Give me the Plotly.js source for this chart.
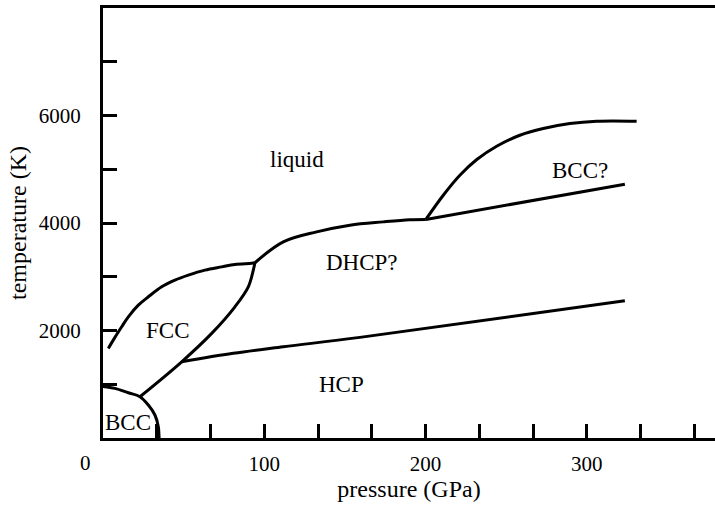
<!DOCTYPE html>
<html>
<head>
<meta charset="utf-8">
<script src="https://cdn.plot.ly/plotly-3.0.1.min.js"></script>
<style>
  html, body { margin: 0; padding: 0; background: #fff; }
  #chart { width: 715px; height: 507px; }
</style>
</head>
<body>
<div id="chart"></div>
<script>
// Phase boundaries of iron: pressure (GPa) vs temperature (K)
const bccLowP = [0, 7.4, 15.7, 22.9, 28.1, 32.2, 34.3, 34.7, 34.8];
const bccLowT = [960, 924, 842, 768, 613, 428, 210, 56, 0];

const fccHcpP = [22.9, 48.8, 67.4, 81.8, 90.1, 93.2, 94.2];
const fccHcpT = [768, 1418, 1946, 2441, 2813, 3123, 3260];

const fccMeltP = [3.3, 7.4, 11.6, 15.7, 21.9, 28.1, 36.4, 44.6, 52.9, 63.2, 73.6, 81.8, 92.2, 94.2];
const fccMeltT = [1667, 1872, 2069, 2255, 2472, 2627, 2813, 2937, 3030, 3123, 3184, 3229, 3250, 3260];

const dhcpMeltP = [94.2, 111.8, 132.5, 153.1, 173.8, 190.3, 200.2];
const dhcpMeltT = [3260, 3649, 3835, 3960, 4021, 4060, 4066];

const bccMeltP = [200.2, 211.0, 221.3, 231.8, 244.1, 258.5, 273.0, 289.5, 306.1, 330.9];
const bccMeltT = [4066, 4517, 4889, 5181, 5428, 5633, 5757, 5850, 5893, 5893];

const dhcpBccP = [200.2, 323.6];
const dhcpBccT = [4066, 4722];

const hcpDhcpP = [48.8, 80.8, 111.8, 159.3, 323.6];
const hcpDhcpT = [1418, 1575, 1697, 1872, 2553];

// Tick marks and labels
const xTickVals = [33.33, 66.67, 100, 133.33, 166.67, 200, 233.33, 266.67, 300, 333.33, 366.67];
const xTickText = ['', '', '100', '', '', '200', '', '', '300', '', ''];
const yTickVals = [1000, 2000, 3000, 4000, 5000, 6000, 7000];
const yTickText = ['', '2000', '', '4000', '', '6000', ''];

// Region labels
const regionNames = ['liquid', 'DHCP?', 'BCC?', 'FCC', 'HCP', 'BCC'];
const regionP = [120.3, 160.6, 295.7, 39.7, 148.0, 15.5];
const regionT = [5187, 3272, 4982, 2008, 1000, 297];

const FONT = 'Liberation Serif, Times New Roman, serif';
const lineStyle = { color: '#000', width: 3 };

function curve(x, y, smooth) {
  return {
    type: 'scatter', mode: 'lines', x: x, y: y,
    line: Object.assign({}, lineStyle, smooth ? { shape: 'spline', smoothing: 1 } : {}),
    hoverinfo: 'skip', showlegend: false
  };
}

const traces = [
  curve(bccLowP, bccLowT, true),
  curve(fccHcpP, fccHcpT, true),
  curve(fccMeltP, fccMeltT, true),
  curve(dhcpMeltP, dhcpMeltT, true),
  curve(bccMeltP, bccMeltT, true),
  curve(dhcpBccP, dhcpBccT, false),
  curve(hcpDhcpP, hcpDhcpT, true)
];

const annotations = regionNames.map((t, i) => ({
  x: regionP[i], y: regionT[i], xref: 'x', yref: 'y', text: t,
  showarrow: false, font: { family: FONT, size: 23, color: '#000' },
  xanchor: 'center', yanchor: 'middle'
}));
// the "0" origin label sits left of the axis corner
annotations.push({
  x: -0.0294, y: 0, xref: 'paper', yref: 'paper', text: '0', showarrow: false,
  font: { family: FONT, size: 21, color: '#000' }, xanchor: 'center', yanchor: 'middle',
  yshift: -25
});

const layout = {
  width: 715, height: 507,
  margin: { l: 103, r: 0, t: 8, b: 69, pad: 0 },
  paper_bgcolor: '#fff', plot_bgcolor: '#fff',
  showlegend: false,
  font: { family: FONT, size: 21, color: '#000' },
  xaxis: {
    range: [0, 379.5], showgrid: false, zeroline: false,
    showline: true, mirror: true, linecolor: '#000', linewidth: 3,
    ticks: 'inside', ticklen: 14, tickwidth: 3, tickcolor: '#000',
    tickmode: 'array', tickvals: xTickVals, ticktext: xTickText,
    tickfont: { family: FONT, size: 21, color: '#000' }, ticklabelstandoff: 5,
    title: { text: 'pressure (GPa)', font: { family: FONT, size: 24, color: '#000' }, standoff: 4 }
  },
  yaxis: {
    range: [0, 8000], showgrid: false, zeroline: false,
    showline: true, mirror: false, linecolor: '#000', linewidth: 3,
    ticks: 'inside', ticklen: 14, tickwidth: 3, tickcolor: '#000',
    tickmode: 'array', tickvals: yTickVals, ticktext: yTickText,
    tickfont: { family: FONT, size: 21, color: '#000' }, ticklabelstandoff: 15,
    title: { text: 'temperature (K)', font: { family: FONT, size: 24, color: '#000' }, standoff: 6 }
  },
  annotations: annotations
};

Plotly.newPlot('chart', traces, layout, { staticPlot: true, displayModeBar: false });
</script>
</body>
</html>
